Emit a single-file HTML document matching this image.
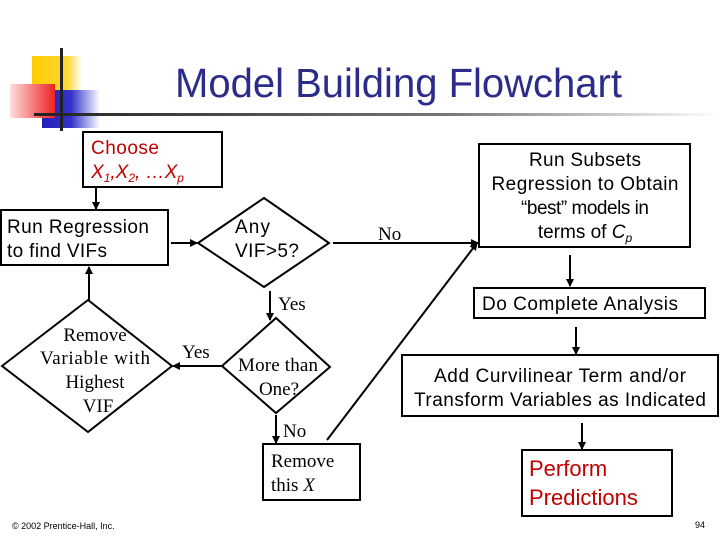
<!DOCTYPE html>
<html><head><meta charset="utf-8"><style>
html,body{margin:0;padding:0;background:#fff;}
svg{display:block;}
</style></head><body>
<svg width="720" height="540" viewBox="0 0 720 540" xmlns="http://www.w3.org/2000/svg">
<defs>
<linearGradient id="hl" x1="0" x2="1" y1="0" y2="0">
<stop offset="0" stop-color="#222"/><stop offset="0.6" stop-color="#777"/><stop offset="1" stop-color="#fff"/></linearGradient>
<linearGradient id="yel" x1="0" x2="1"><stop offset="0" stop-color="#ffcc00"/><stop offset="0.7" stop-color="#ffd633"/><stop offset="1" stop-color="#fff"/></linearGradient>
<linearGradient id="red" x1="0" x2="1"><stop offset="0" stop-color="#ffdddd"/><stop offset="1" stop-color="#ee2222"/></linearGradient>
<linearGradient id="blu" x1="0" x2="1"><stop offset="0" stop-color="#2222bb"/><stop offset="0.5" stop-color="#3333cc"/><stop offset="1" stop-color="#fff"/></linearGradient>
<marker id="ar" markerWidth="8" markerHeight="8" refX="7" refY="4" orient="auto" markerUnits="userSpaceOnUse">
<path d="M0,0 L8,4 L0,8 z" fill="#000"/></marker>
</defs>
<rect x="32" y="56" width="50" height="34" fill="url(#yel)"/>
<rect x="42" y="90" width="58" height="38" fill="url(#blu)"/>
<rect x="10" y="84" width="45" height="34" fill="url(#red)"/>
<rect x="34" y="113" width="686" height="3" fill="url(#hl)"/>
<rect x="60" y="48" width="3" height="83" fill="#222"/>
<text x="175" y="97" font-family="Liberation Sans, sans-serif" font-size="41" fill="#2b2b8a" textLength="447" lengthAdjust="spacingAndGlyphs">Model Building Flowchart</text>

<g fill="none" stroke="#000" stroke-width="2">
<rect x="83" y="132" width="139" height="55"/>
<rect x="1" y="210" width="167" height="55"/>
<polygon points="198,243 264,198 329,243 264,287"/>
<rect x="479" y="144" width="211" height="103"/>
<rect x="474" y="288" width="231" height="30"/>
<rect x="402" y="355" width="316" height="61"/>
<rect x="522" y="450" width="150" height="66"/>
<polygon points="222,366 276,318 330,367 276,413"/>
<polygon points="2,366 88,300 172,366 88,432"/>
<rect x="263" y="444" width="97" height="56"/>
</g>
<g stroke="#000" stroke-width="2" fill="none" marker-end="url(#ar)">
<line x1="96" y1="187" x2="96" y2="209"/>
<line x1="171" y1="243" x2="197" y2="243"/>
<line x1="333" y1="243" x2="478" y2="243"/>
<line x1="327" y1="440" x2="477" y2="243"/>
<line x1="570" y1="255" x2="570" y2="286"/>
<line x1="576" y1="327" x2="576" y2="354"/>
<line x1="582" y1="423" x2="582" y2="449"/>
<line x1="270" y1="291" x2="270" y2="320"/>
<line x1="222" y1="366" x2="173" y2="366"/>
<line x1="89" y1="300" x2="89" y2="267"/>
<line x1="276" y1="415" x2="276" y2="443"/>
</g>

<g font-family="Liberation Sans, sans-serif" font-size="19" fill="#000" lengthAdjust="spacingAndGlyphs">
<text x="91" y="154" fill="#c00000" textLength="68">Choose</text>
<text x="91" y="178" fill="#c00000" font-style="italic">X<tspan font-size="12" dy="4">1</tspan><tspan dy="-4">,X</tspan><tspan font-size="12" dy="4">2</tspan><tspan dy="-4">, …X</tspan><tspan font-size="12" dy="4">p</tspan></text>
<text x="7" y="233" textLength="142">Run Regression</text>
<text x="7" y="257" textLength="100">to find VIFs</text>
<text x="235" y="233" textLength="35">Any</text>
<text x="235" y="257" textLength="64">VIF&gt;5?</text>
<g text-anchor="middle">
<text x="585" y="166" textLength="112">Run Subsets</text>
<text x="585" y="190" textLength="187">Regression to Obtain</text>
<text x="585" y="214" textLength="128">“best” models in</text>
<text x="585" y="238">terms of <tspan font-style="italic">C</tspan><tspan font-style="italic" font-size="12" dy="4">p</tspan></text>
<text x="580" y="310" textLength="196">Do Complete Analysis</text>
<text x="560" y="382" textLength="252">Add Curvilinear Term and/or</text>
<text x="560" y="406" textLength="292">Transform Variables as Indicated</text>
</g>
<text x="529" y="476" font-size="22" fill="#c00000">Perform</text>
<text x="529" y="505" font-size="22" fill="#c00000">Predictions</text>
</g>
<g font-family="Liberation Serif, serif" font-size="19" fill="#000" lengthAdjust="spacingAndGlyphs">
<text x="378" y="240">No</text>
<text x="278" y="310">Yes</text>
<text x="182" y="358">Yes</text>
<text x="283" y="437">No</text>
<g text-anchor="middle">
<text x="95" y="341">Remove</text>
<text x="95" y="364" textLength="110">Variable with</text>
<text x="95" y="388">Highest</text>
<text x="98" y="412">VIF</text>
<text x="278" y="371" textLength="80">More than</text>
<text x="279" y="395">One?</text>
</g>
<text x="271" y="467">Remove</text>
<text x="271" y="491">this <tspan font-style="italic">X</tspan></text>
</g>
<text x="12" y="529" font-family="Liberation Sans, sans-serif" font-size="9" fill="#000">© 2002 Prentice-Hall, Inc.</text>
<text x="695" y="528" font-family="Liberation Sans, sans-serif" font-size="9" fill="#000">94</text>
</svg>
</body></html>
